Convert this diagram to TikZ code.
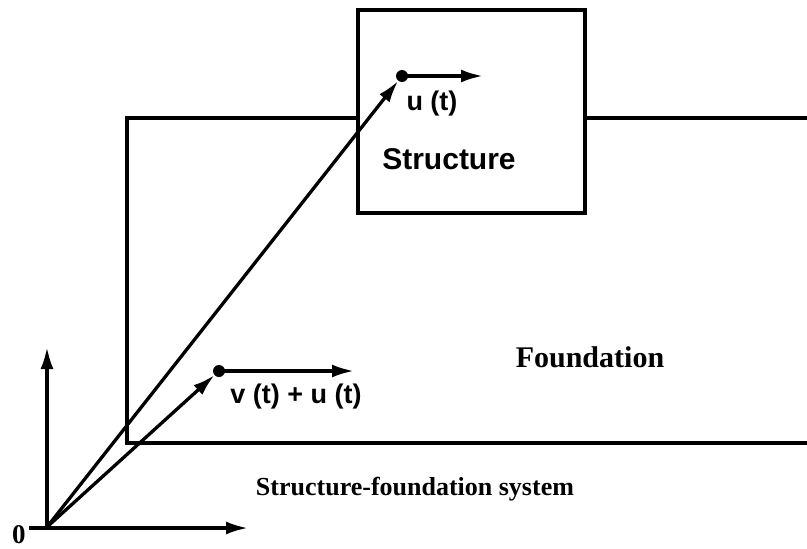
\documentclass[tikz,border=0pt]{standalone}
\usepackage{fontspec}
\setmainfont{Liberation Serif}
\setsansfont{Liberation Sans}
\usetikzlibrary{arrows.meta}
\tikzset{
  vec/.style={line width=3.3pt,-{Latex[length=22pt,width=13pt]}},
  plain/.style={line width=3.3pt},
  dotnode/.style={circle,fill=black,inner sep=0pt,minimum size=12pt},
  slab/.style={inner sep=0pt,font=\sffamily\bfseries\fontsize{27}{27}\selectfont},
  bigslab/.style={inner sep=0pt,font=\sffamily\bfseries\fontsize{30}{30}\selectfont},
  rlab/.style={inner sep=0pt,font=\rmfamily\bfseries\fontsize{#1}{#1}\selectfont},
}
\begin{document}
\begin{tikzpicture}[x=1pt,y=-1pt]
\useasboundingbox (0,0) rectangle (807,549);
% foundation
\coordinate (fTR) at (807,118);
\coordinate (fTL) at (127,118);
\coordinate (fBL) at (127,443);
\coordinate (fBR) at (807,443);
\draw[plain,line join=miter] (fTR) -- (fTL) -- (fBL) -- (fBR);
% structure box
\node[draw=black,fill=white,line width=3.3pt,minimum width=227pt,minimum height=203pt,inner sep=0pt] (box) at (471.5,111.5) {};
% axes
\coordinate (O) at (47,527);
\coordinate (axL) at (29,528);
\coordinate (axR) at (248,528);
\coordinate (axU) at (47,347);
\draw[vec] (axL) -- (axR);
\draw[vec] (O) -- (axU);
% dots
\node[dotnode] (d1) at (402,76) {};
\node[dotnode] (d2) at (219,371) {};
\coordinate (d1e) at (483,76);
\coordinate (d2e) at (354,371);
\draw[vec] (O) -- (d1);
\draw[vec] (O) -- (d2);
\draw[vec] (d1.center) -- (d1e);
\draw[vec] (d2.center) -- (d2e);
% labels
\node[slab] (ut) at (432,104) {u (t)};
\node[bigslab] (st) at (449,159) {Structure};
\node[slab] (vu) at (296,397) {v (t) + u (t)};
\node[rlab=30] (fd) at (590,357) {Foundation};
\node[rlab=26] (sys) at (415,489) {Structure-foundation system};
\node[rlab=27] (zero) at (19,535) {0};
\end{tikzpicture}
\end{document}
